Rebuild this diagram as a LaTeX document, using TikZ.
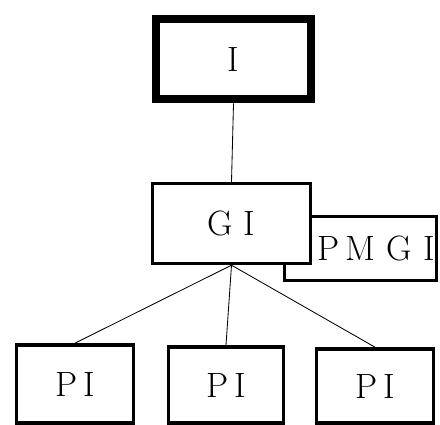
\documentclass[tikz,border=0pt]{standalone}
\usepackage{tikz}

\begin{document}
\begin{tikzpicture}[x=0.025cm, y=-0.025cm,
    box/.style={draw, fill=white, inner sep=1pt, font=\fontsize{25}{30}\selectfont},
    link/.style={line width=0.6pt}]
    \useasboundingbox (0,0) rectangle (440,425);
    % upper levels
    \node[box, line width=6.3pt, minimum width=3.875cm, minimum height=2cm] (i) at (233.5,59) {I};
    \node[box, line width=2.2pt, minimum width=3.8cm, minimum height=1.6cm,
          text width=3.75cm, align=right] (pmgi) at (360.5,248.5) {P\,M G I};
    \node[box, line width=2.4pt, minimum width=3.95cm, minimum height=2cm] (gi) at (231.5,223.5) {G I};
    % lower level
    \node[box, line width=2.6pt, minimum width=2.925cm, minimum height=1.95cm] (pia) at (75,384) {P\,I};
    \node[box, line width=2.6pt, minimum width=2.875cm, minimum height=1.9cm] (pib) at (226,385) {P\,I};
    \node[box, line width=2.6pt, minimum width=2.925cm, minimum height=1.85cm] (pic) at (375,386) {P\,I};
    % connectors
    \draw[link] (i.south) -- (gi.north);
    \draw[link] (gi.south) -- (pia.north);
    \draw[link] (gi.south) -- (pib.north);
    \draw[link] (gi.south) -- (pic.north);
\end{tikzpicture}
\end{document}
